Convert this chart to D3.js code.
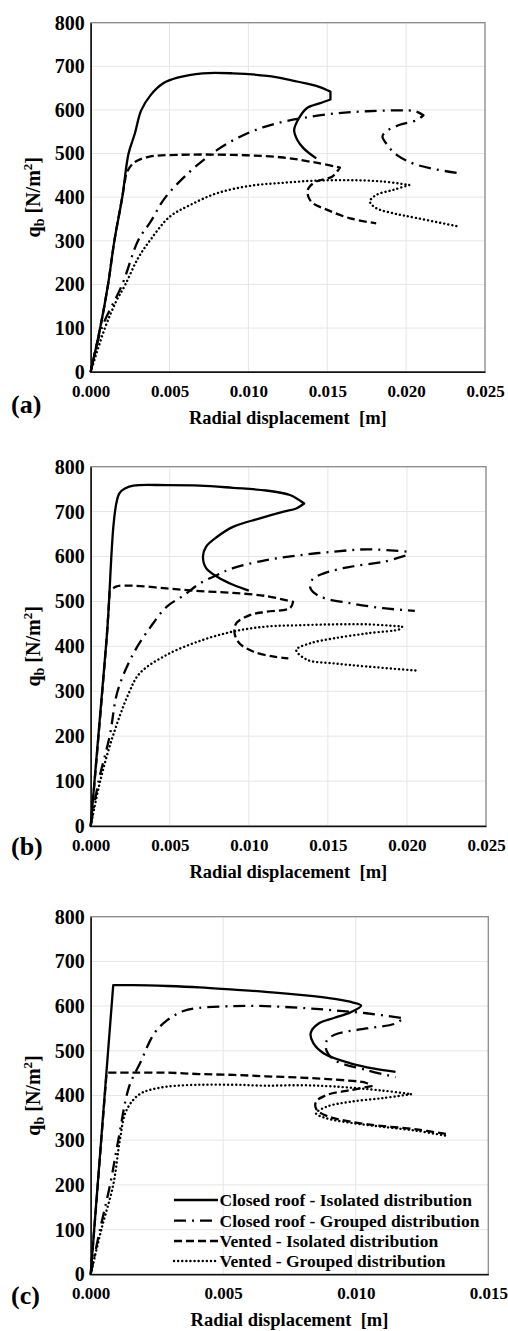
<!DOCTYPE html>
<html><head><meta charset="utf-8">
<script src="https://cdn.jsdelivr.net/npm/d3@7"></script>
<style>
body{margin:0;background:#fff;}
svg text{font-family:"Liberation Serif","Times New Roman",serif;font-weight:bold;fill:#000;}
</style></head>
<body><svg id="c" width="508" height="1331"></svg>
<script>
// ---------- DATA ----------
const seriesNames = ["Closed roof - Isolated distribution","Closed roof - Grouped distribution","Vented - Isolated distribution","Vented - Grouped distribution"];
const yTicks = [0,100,200,300,400,500,600,700,800];
const xTicksAB = [0,0.005,0.010,0.015,0.020,0.025];
const xTicksC = [0,0.005,0.010,0.015];

// Panel (a)  [radial displacement m, q_b N/m2]
const a_closedIso = [[0,0],[0.0006,100],[0.0011,200],[0.0015,300],[0.0020,400],[0.0024,500],[0.0028,546],[0.0032,599],[0.0038,634],[0.0046,661],[0.0055,674],[0.0071,684],[0.0090,684],[0.0112,678],[0.0126,669],[0.0143,655],[0.0152,642],[0.0152,624],[0.0145,615],[0.0137,604],[0.0132,581],[0.0129,554],[0.0131,531],[0.0135,512],[0.0143,489]];
const a_closedGrp = [[0,0],[0.0007,100],[0.0020,200],[0.0030,300],[0.0038,344],[0.0047,398],[0.0063,459],[0.0080,508],[0.0095,539],[0.0109,560],[0.0122,573],[0.0135,582],[0.0155,592],[0.0175,597],[0.0196,599],[0.0206,597],[0.0211,588],[0.0207,577],[0.0196,566],[0.0187,550],[0.0185,539],[0.0188,520],[0.0194,497],[0.0207,474],[0.0233,455]];
const a_ventIso = [[0,0],[0.0006,100],[0.0011,200],[0.0015,300],[0.0020,400],[0.00225,455],[0.0027,478],[0.0036,492],[0.0055,497],[0.0090,497],[0.0122,491],[0.0143,479],[0.0158,468],[0.0153,447],[0.0143,436],[0.0138,420],[0.0138,401],[0.0141,386],[0.0150,371],[0.0164,352],[0.0181,340]];
const a_ventGrp = [[0,0],[0.0009,100],[0.0016,160],[0.0022,200],[0.0030,260],[0.0038,303],[0.0050,355],[0.0063,382],[0.0080,409],[0.0101,426],[0.0122,433],[0.0143,438],[0.0164,439],[0.0185,436],[0.0202,428],[0.0192,417],[0.0181,405],[0.0177,390],[0.0181,375],[0.0192,363],[0.0207,352],[0.0233,333]];

// Panel (b)
const b_closedIso = [[0,0],[0.0010,414],[0.0018,740],[0.0022,752],[0.0027,758],[0.0048,759],[0.0069,758],[0.0090,753],[0.0111,747],[0.0126,737],[0.0135,718],[0.0130,707],[0.0122,700],[0.0107,685],[0.0090,666],[0.0080,644],[0.0073,622],[0.0071,600],[0.0073,574],[0.0080,555],[0.0090,537],[0.0100,524]];
const b_closedGrp = [[0,0],[0.0005,100],[0.0012,200],[0.0017,300],[0.0027,384],[0.0038,444],[0.0048,488],[0.0059,514],[0.0069,540],[0.0080,559],[0.0090,574],[0.0111,592],[0.0132,603],[0.0154,611],[0.0175,616],[0.0200,611],[0.0200,603],[0.0185,588],[0.0164,577],[0.0147,562],[0.0140,548],[0.0139,529],[0.0145,511],[0.0164,496],[0.0185,485],[0.0205,479]];
const b_ventIso = [[0,0],[0.0010,414],[0.0012,522],[0.0016,533],[0.0027,535],[0.0048,529],[0.0069,523],[0.0090,519],[0.0111,512],[0.0128,499],[0.0126,485],[0.0111,477],[0.0101,470],[0.0092,451],[0.0091,429],[0.0094,407],[0.0103,388],[0.0116,377],[0.0125,373]];
const b_ventGrp = [[0,0],[0.0006,100],[0.0014,200],[0.0024,295],[0.0031,340],[0.0048,381],[0.0069,412],[0.0090,433],[0.0111,444],[0.0132,447],[0.0154,449],[0.0175,449],[0.0197,444],[0.0196,439],[0.0175,429],[0.0154,418],[0.0139,407],[0.0130,392],[0.0137,370],[0.0154,362],[0.0175,355],[0.0206,346]];

// Panel (c)
const c_closedIso = [[0,0],[0.00085,647],[0.0016,647],[0.0029,645],[0.0041,642],[0.0054,637],[0.0066,632],[0.0079,625],[0.0092,616],[0.0099,608],[0.0102,601],[0.0098,586],[0.0092,574],[0.0086,561],[0.0083,540],[0.0084,517],[0.0088,494],[0.0098,472],[0.0107,460],[0.0115,453]];
const c_closedGrp = [[0,0],[0.00035,100],[0.00073,200],[0.00104,300],[0.00145,420],[0.00186,472],[0.0024,539],[0.0029,569],[0.0035,589],[0.0041,596],[0.0054,600],[0.0066,600],[0.0079,596],[0.0091,591],[0.0104,584],[0.0118,573],[0.0115,561],[0.0104,550],[0.0092,536],[0.0089,522],[0.0089,500],[0.0092,479],[0.0104,457],[0.0115,441]];
const c_ventIso = [[0,0],[0.0006,451],[0.0016,451],[0.0029,451],[0.0041,448],[0.0054,446],[0.0066,443],[0.0079,440],[0.0091,436],[0.0104,428],[0.0106,421],[0.0098,412],[0.0089,401],[0.0085,386],[0.0085,371],[0.0087,360],[0.0092,349],[0.0104,336],[0.0123,324],[0.0134,314]];
const c_ventGrp = [[0,0],[0.0004,100],[0.00085,200],[0.0011,300],[0.0013,360],[0.0016,390],[0.0019,405],[0.0022,412],[0.0029,420],[0.0041,424],[0.0054,424],[0.0066,422],[0.0079,423],[0.0092,420],[0.0110,411],[0.0121,403],[0.0110,394],[0.0098,386],[0.0089,375],[0.0085,360],[0.0089,349],[0.0098,339],[0.0110,330],[0.0123,321],[0.0134,310]];

// sharp-corner vertex indices per series (rendering hint)
const cornersA = [[16,17],[16],[5,12],[14]];
const cornersB = [[10],[15,16],[2,9],[12]];
const cornersC = [[1],[15],[1,10],[15]];

// ---------- STYLES ----------
const styles = [
  {dash:null, w:2.3, cap:"butt"},
  {dash:"12,6,2,6", w:2.3, cap:"butt"},
  {dash:"8,4", w:2.3, cap:"butt"},
  {dash:"0.1,4", w:2.4, cap:"round"}
];

const panels = [
  {label:"(a)", xMax:0.025, xTicks:xTicksAB, data:[a_closedIso,a_closedGrp,a_ventIso,a_ventGrp], corners:cornersA,
   box:{l:90.7,r:485,t:22.7,b:371.7}, letterY:407, legend:false},
  {label:"(b)", xMax:0.025, xTicks:xTicksAB, data:[b_closedIso,b_closedGrp,b_ventIso,b_ventGrp], corners:cornersB,
   box:{l:90.7,r:486,t:466.7,b:826}, letterY:849, legend:false},
  {label:"(c)", xMax:0.015, xTicks:xTicksC, data:[c_closedIso,c_closedGrp,c_ventIso,c_ventGrp], corners:cornersC,
   box:{l:90.7,r:488.3,t:916.7,b:1274.3}, letterY:1298, legend:true}
];

const svg = d3.select("#c");
const FONT = '"Liberation Serif","Times New Roman",serif';

panels.forEach(p => {
  const B = p.box;
  const x = d3.scaleLinear().domain([0,p.xMax]).range([B.l,B.r]);
  const y = d3.scaleLinear().domain([0,800]).range([B.b,B.t]);
  const g = svg.append("g");

  // gridlines
  g.append("g").selectAll("line").data(yTicks).join("line")
    .attr("x1",B.l).attr("x2",B.r).attr("y1",d=>y(d)).attr("y2",d=>y(d))
    .attr("stroke","#e6e6e6").attr("stroke-width",1);
  g.append("g").selectAll("line").data(p.xTicks).join("line")
    .attr("y1",B.t).attr("y2",B.b).attr("x1",d=>x(d)).attr("x2",d=>x(d))
    .attr("stroke","#e6e6e6").attr("stroke-width",1);

  // border
  g.append("rect").attr("x",B.l).attr("y",B.t).attr("width",B.r-B.l).attr("height",B.b-B.t)
    .attr("fill","none").attr("stroke","#8a8a8a").attr("stroke-width",1.3);

  // axes
  const ya = g.append("g").attr("transform",`translate(${B.l},0)`)
    .call(d3.axisLeft(y).tickValues(yTicks).tickSize(0).tickPadding(6).tickFormat(d3.format("d")));
  ya.select(".domain").attr("stroke","#111").attr("stroke-width",1.5);
  ya.selectAll("text").attr("font-size",20).style("font-family",FONT).style("font-weight","bold");

  const xa = g.append("g").attr("transform",`translate(0,${B.b})`)
    .call(d3.axisBottom(x).tickValues(p.xTicks).tickSize(0).tickPadding(13).tickFormat(d3.format(".3f")));
  xa.select(".domain").attr("stroke","#111").attr("stroke-width",1.5);
  xa.selectAll("text").attr("font-size",17).style("font-family",FONT).style("font-weight","bold");

  // series
  const line = d3.line().x(d=>x(d[0])).y(d=>y(d[1])).curve(d3.curveCatmullRom.alpha(0.5));
  p.data.forEach((s,i) => {
    const st = styles[i];
    const cut = p.corners[i];
    const segs = [];
    let start = 0;
    cut.forEach(c => { segs.push(s.slice(start, c+1)); start = c; });
    segs.push(s.slice(start));
    const dStr = segs.map((seg,k) => {
      const d = line(seg);
      return k === 0 ? d : d.replace(/^M/, "L");
    }).join("");
    g.append("path").attr("d",dStr).attr("fill","none").attr("stroke","#000")
      .attr("stroke-width",st.w).attr("stroke-dasharray",st.dash)
      .attr("stroke-linecap",st.cap).attr("stroke-linejoin","round");
  });

  // axis titles
  g.append("text").attr("x",(B.l+B.r)/2).attr("y",B.b+52).attr("text-anchor","middle")
    .attr("font-size",18.5).style("white-space","pre").text("Radial displacement  [m]");
  const yl = g.append("text").attr("transform",`translate(40,${(B.t+B.b)/2}) rotate(-90)`)
    .attr("text-anchor","middle").attr("font-size",20);
  yl.append("tspan").text("q");
  yl.append("tspan").attr("font-size",14).attr("dy",4).text("b");
  yl.append("tspan").attr("dy",-4).text(" [N/m");
  yl.append("tspan").attr("font-size",13).attr("dy",-8).text("2");
  yl.append("tspan").attr("dy",8).text("]");

  g.append("text").attr("x",11).attr("y",p.letterY).attr("dominant-baseline","middle")
    .attr("font-size",26).text(p.label);

  if (p.legend) {
    const lg = g.append("g");
    const rows = [1200,1220.7,1241,1261];
    seriesNames.forEach((n,i)=>{
      const st = styles[i];
      lg.append("line").attr("x1",174).attr("x2",218).attr("y1",rows[i]).attr("y2",rows[i])
        .attr("stroke","#000").attr("stroke-width",st.w).attr("stroke-dasharray",st.dash)
        .attr("stroke-linecap",st.cap);
      lg.append("text").attr("x",219.5).attr("y",rows[i]).attr("dominant-baseline","central")
        .attr("font-size",17.5).text(n);
    });
  }
});
</script></body></html>
